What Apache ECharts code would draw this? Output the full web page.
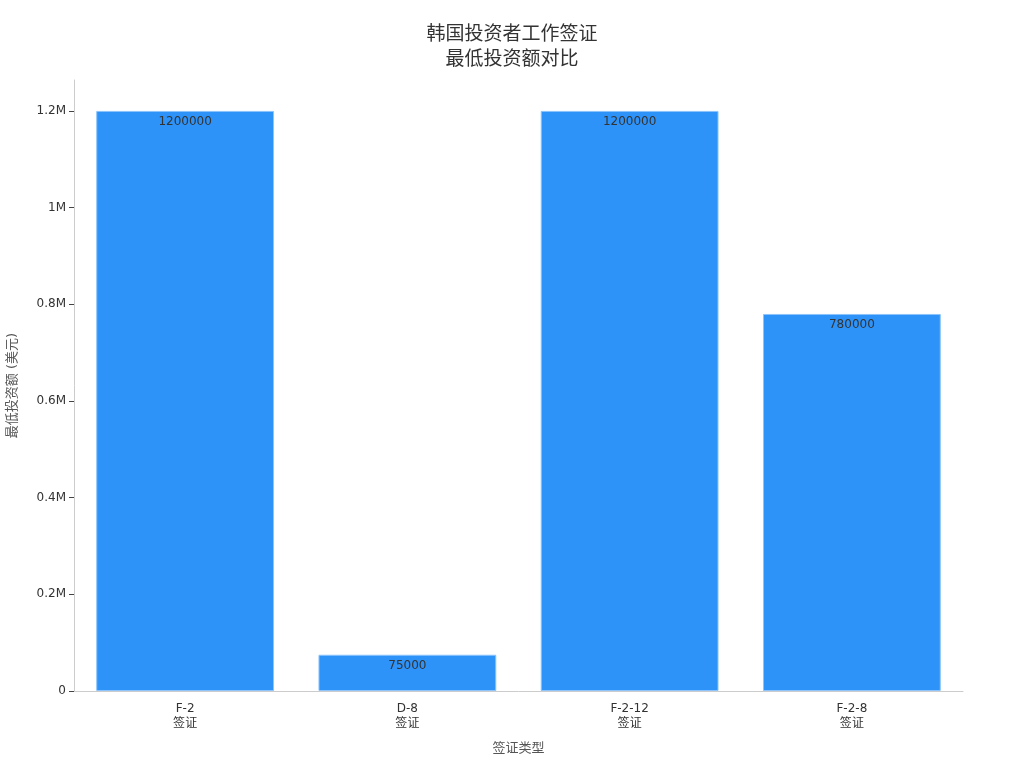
<!DOCTYPE html>
<html>
<head>
<meta charset="utf-8">
<script src="https://cdn.jsdelivr.net/npm/echarts@6/dist/echarts.min.js"></script>
<style>
html, body { margin: 0; padding: 0; background: #fff; }
#main { width: 1024px; height: 768px; }
</style>
</head>
<body>
<div id="main"></div>
<script>
var categories = ['F-2\n签证', 'D-8\n签证', 'F-2-12\n签证', 'F-2-8\n签证'];
var minInvest = [1200000, 75000, 1200000, 780000];
var yTicks = [0, 200000, 400000, 600000, 800000, 1000000, 1200000];

(function(){
	var myChart = echarts.init(document.getElementById('main'));
	var font = '"DejaVu Sans", "Noto Sans CJK SC", sans-serif';

	var option = {
		animation: false,
		textStyle: { fontFamily: font },
		title: {
			text: '韩国投资者工作签证\n最低投资额对比',
			left: 'center',
			top: 18,
			textStyle: { fontSize: 19, fontWeight: 'normal', color: '#333', lineHeight: 25, fontFamily: font }
		},
		grid: { left: 74, right: 61, top: 80, bottom: 77, outerBoundsMode: 'none', containLabel: false },
		xAxis: {
			type: 'category',
			data: categories,
			name: '签证类型',
			nameLocation: 'middle',
			nameGap: 51,
			nameTextStyle: { color: '#555', fontSize: 13, fontFamily: font },
			axisLine: { lineStyle: { color: '#ccc' } },
			axisTick: { alignWithLabel: true, length: 5, lineStyle: { color: '#444' } },
			axisLabel: { color: '#333', fontSize: 12, lineHeight: 15, margin: 10, fontFamily: font }
		},
		yAxis: {
			type: 'value',
			min: 0,
			max: 1264000,
			name: '最低投资额 (美元)',
			nameLocation: 'middle',
			nameGap: 55,
			nameTextStyle: { color: '#555', fontSize: 13, fontFamily: font },
			splitLine: { show: false },
			axisLine: { show: true, lineStyle: { color: '#ccc' } },
			axisTick: { show: true, length: 5, customValues: yTicks, lineStyle: { color: '#444' } },
			axisLabel: {
				color: '#333', fontSize: 12, margin: 8, fontFamily: font,
				customValues: yTicks,
				formatter: function (v) {
					if (v === 0) return '0';
					return (v / 1000000) + 'M';
				}
			}
		},
		series: [{
			type: 'bar',
			data: minInvest,
			barCategoryGap: '20%',
			itemStyle: { color: '#2E93F8', borderColor: '#8cc4fb', borderWidth: 1 },
			label: {
				show: true,
				position: 'insideTop',
				distance: 5,
				color: '#333',
				fontSize: 12,
				fontFamily: font
			}
		}]
	};

	myChart.setOption(option);
})();
</script>
</body>
</html>
